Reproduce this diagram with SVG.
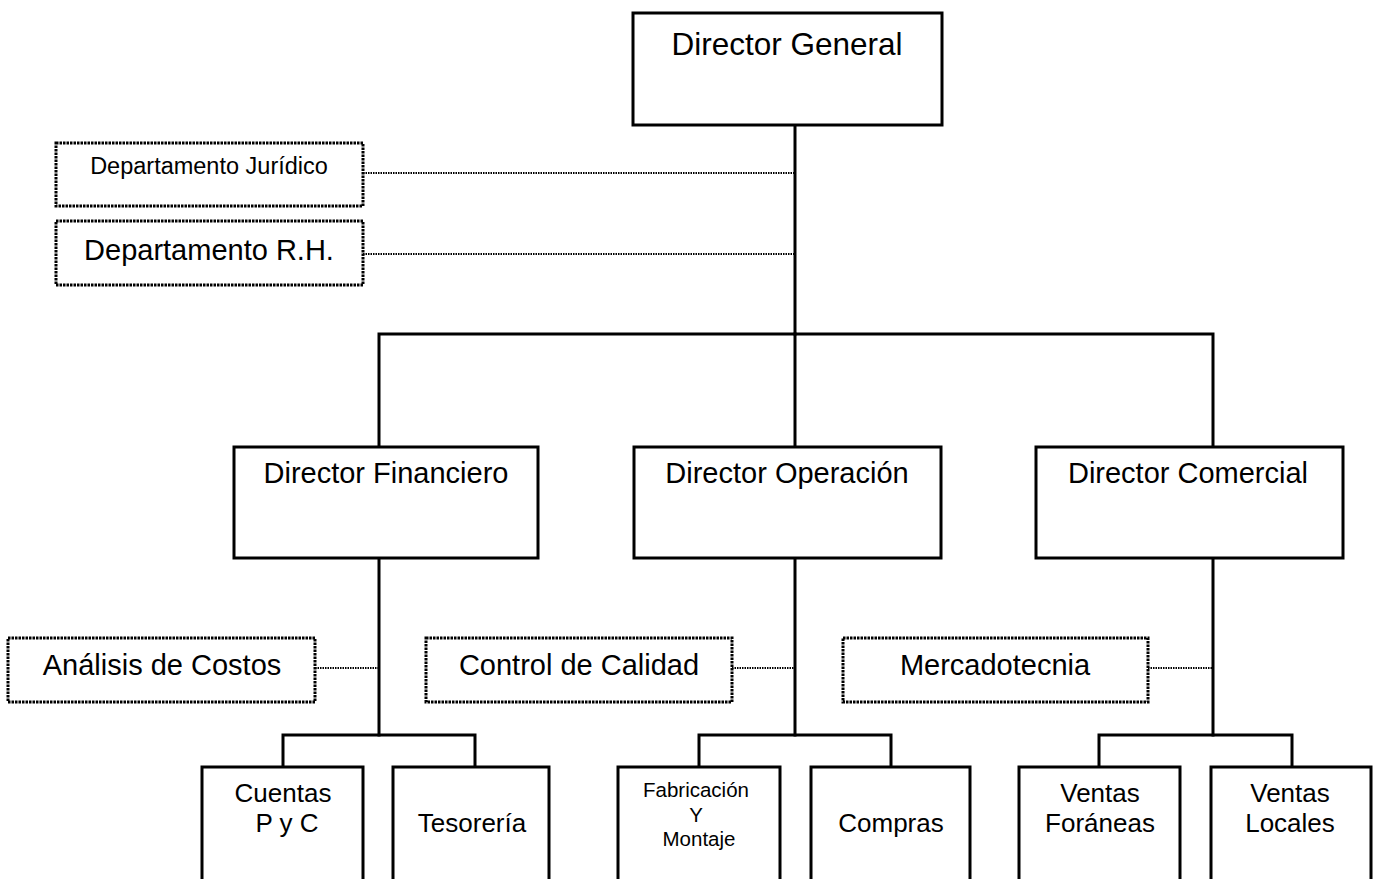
<svg xmlns="http://www.w3.org/2000/svg" width="1381" height="879" viewBox="0 0 1381 879">
  <style>
    text { font-family: "Liberation Sans", Arial, sans-serif; fill: #000; text-anchor: middle; }
    .box { fill: #fff; stroke: #000; stroke-width: 3; }
    .staff { fill: #fff; stroke: #000; stroke-width: 3; stroke-dasharray: 2.5 1; }
    .line { fill: none; stroke: #000; stroke-width: 3; stroke-linecap: square; }
    .dot { fill: none; stroke: #000; stroke-width: 2; stroke-dasharray: 1.5 1; }
    .t29 { font-size: 29px; }
    .t26 { font-size: 26px; }
  </style>
  <rect width="1381" height="879" fill="#fff"/>

  <!-- connectors -->
  <g id="connectors">
    <!-- main trunk -->
    <path class="line" d="M795 125 V334"/>
    <path class="line" d="M379 447 V334 H1213 V447"/>
    <path class="line" d="M795 334 V447"/>
    <!-- director stems -->
    <path class="line" d="M379 558 V735 M795 558 V735 M1213 558 V735"/>
    <!-- sub-branches -->
    <path class="line" d="M283 767 V735 H475 V767"/>
    <path class="line" d="M699 767 V735 H891 V767"/>
    <path class="line" d="M1099 767 V735 H1292 V767"/>
    <!-- staff (dotted) links -->
    <path class="dot" d="M363 173 H795"/>
    <path class="dot" d="M363 254 H795"/>
    <path class="dot" d="M315 668 H379"/>
    <path class="dot" d="M732 668 H795"/>
    <path class="dot" d="M1148 668 H1213"/>
  </g>

  <g id="director-general">
    <rect class="box" x="633" y="13" width="309" height="112"/>
    <text x="787" y="55" font-size="31.5">Director General</text>
  </g>

  <g id="depto-juridico">
    <rect class="staff" x="56" y="143" width="307" height="63"/>
    <text x="209" y="174" font-size="23.5">Departamento Jurídico</text>
  </g>

  <g id="depto-rh">
    <rect class="staff" x="56" y="221" width="307" height="64"/>
    <text x="209" y="260" class="t29">Departamento R.H.</text>
  </g>

  <g id="director-financiero">
    <rect class="box" x="234" y="447" width="304" height="111"/>
    <text x="386" y="483" class="t29">Director Financiero</text>
  </g>

  <g id="director-operacion">
    <rect class="box" x="634" y="447" width="307" height="111"/>
    <text x="787" y="483" class="t29">Director Operación</text>
  </g>

  <g id="director-comercial">
    <rect class="box" x="1036" y="447" width="307" height="111"/>
    <text x="1188" y="483" class="t29">Director Comercial</text>
  </g>

  <g id="analisis-costos">
    <rect class="staff" x="8" y="638" width="307" height="64"/>
    <text x="162" y="675" class="t29">Análisis de Costos</text>
  </g>

  <g id="control-calidad">
    <rect class="staff" x="426" y="638" width="306" height="64"/>
    <text x="579" y="675" class="t29">Control de Calidad</text>
  </g>

  <g id="mercadotecnia">
    <rect class="staff" x="843" y="638" width="305" height="64"/>
    <text x="995" y="675" class="t29">Mercadotecnia</text>
  </g>

  <g id="cuentas">
    <rect class="box" x="202" y="767" width="161" height="130"/>
    <text x="283" y="802" class="t26">Cuentas</text>
    <text x="287" y="832" class="t26">P y C</text>
  </g>

  <g id="tesoreria">
    <rect class="box" x="393" y="767" width="156" height="130"/>
    <text x="472" y="832" class="t26">Tesorería</text>
  </g>

  <g id="fabricacion">
    <rect class="box" x="618" y="767" width="162" height="130"/>
    <text x="696" y="797" font-size="20.5">Fabricación</text>
    <text x="696" y="822" font-size="20.5">Y</text>
    <text x="699" y="846" font-size="20.5">Montaje</text>
  </g>

  <g id="compras">
    <rect class="box" x="811" y="767" width="159" height="130"/>
    <text x="891" y="832" class="t26">Compras</text>
  </g>

  <g id="ventas-foraneas">
    <rect class="box" x="1019" y="767" width="161" height="130"/>
    <text x="1100" y="802" class="t26">Ventas</text>
    <text x="1100" y="832" class="t26">Foráneas</text>
  </g>

  <g id="ventas-locales">
    <rect class="box" x="1211" y="767" width="160" height="130"/>
    <text x="1290" y="802" class="t26">Ventas</text>
    <text x="1290" y="832" class="t26">Locales</text>
  </g>
</svg>
